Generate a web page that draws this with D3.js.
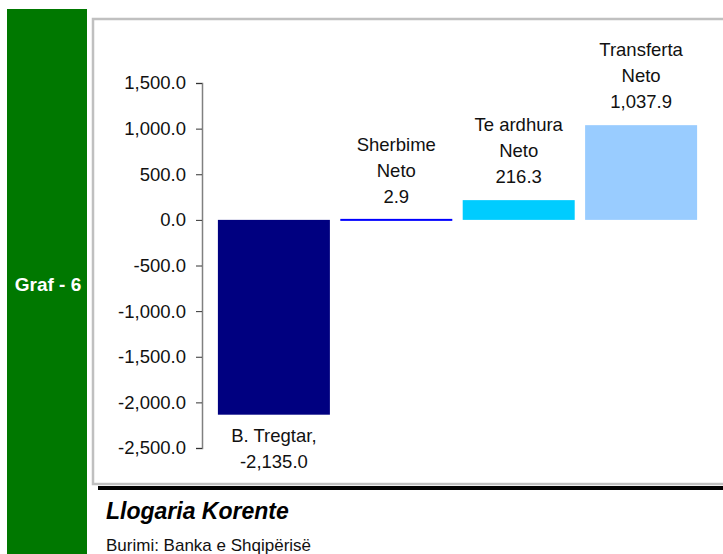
<!DOCTYPE html>
<html>
<head>
<meta charset="utf-8">
<script src="https://cdn.jsdelivr.net/npm/d3@7"></script>
<style>
  body { margin: 0; background: #fff; }
  text { font-family: "Liberation Sans", Arial, sans-serif; }
</style>
</head>
<body>
<div id="app"></div>
<script>
const width = 723;
const height = 554;

// data
const categories = ["B. Tregtar", "Sherbime Neto", "Te ardhura Neto", "Transferta Neto"];
const values = [-2135.0, 2.9, 216.3, 1037.9];
const labelLines = [["B. Tregtar,"], ["Sherbime", "Neto"], ["Te ardhura", "Neto"], ["Transferta", "Neto"]];
const barColors = ["#000080", "#0000ff", "#00ccff", "#99ccff"];
const yTicks = [1500, 1000, 500, 0, -500, -1000, -1500, -2000, -2500];

const svg = d3
  .select("#app")
  .append("svg")
  .attr("width", width)
  .attr("height", height);

// plain hyphen instead of unicode minus
const fmt = v => d3.format(",.1f")(v).replace("\u2212", "-");

// green side strip
svg.append("rect")
  .attr("x", 7).attr("y", 9)
  .attr("width", 80).attr("height", height - 9)
  .attr("fill", "#007800");

svg.append("text")
  .attr("x", 48).attr("y", 291)
  .attr("text-anchor", "middle")
  .attr("fill", "#fff")
  .style("font-size", "19px")
  .style("font-weight", "bold")
  .text("Graf - 6");

// chart frame
svg.append("rect")
  .attr("x", 93).attr("y", 19)
  .attr("width", 640).attr("height", 465)
  .attr("fill", "#fff")
  .attr("stroke", "#c0c0c0")
  .attr("stroke-width", 2.5);

svg.append("rect")
  .attr("x", 98).attr("y", 486)
  .attr("width", width - 98).attr("height", 4)
  .attr("fill", "#000");

const y = d3.scaleLinear()
  .domain([-2500, 1500])
  .range([448, 83]);

const x = d3.scaleBand()
  .domain(categories)
  .range([213, 702])
  .paddingInner(0.085)
  .paddingOuter(0.04);

// y axis
const axis = svg.append("g")
  .attr("transform", "translate(202,0)")
  .call(d3.axisLeft(y)
    .tickValues(yTicks)
    .tickSize(6)
    .tickPadding(10)
    .tickFormat(fmt));

axis.select(".domain").attr("stroke", "#808080").attr("stroke-width", 1.5);
axis.selectAll(".tick line").attr("stroke", "#333");
axis.selectAll(".tick text")
  .attr("fill", "#111")
  .style("font-size", "18.5px")
  .style("font-family", "'Liberation Sans', Arial, sans-serif");

// bars
svg.selectAll("rect.bar")
  .data(categories)
  .join("rect")
  .attr("class", "bar")
  .attr("x", d => x(d))
  .attr("width", x.bandwidth())
  .attr("y", (d, i) => {
    const top = Math.min(y(values[i]), y(0));
    return Math.abs(y(values[i]) - y(0)) < 2 ? y(0) - 1 : top;
  })
  .attr("height", (d, i) => Math.max(2, Math.abs(y(values[i]) - y(0))))
  .attr("fill", (d, i) => barColors[i]);

// labels
categories.forEach((c, i) => {
  const lines = labelLines[i].concat([fmt(values[i])]);
  const cx = x(c) + x.bandwidth() / 2;
  const g = svg.append("text")
    .attr("text-anchor", "middle")
    .attr("fill", "#111")
    .style("font-size", "18.5px");
  if (values[i] < 0) {
    const start = y(values[i]) + 27;
    lines.forEach((l, k) => {
      g.append("tspan").attr("x", cx).attr("y", start + k * 26).text(l);
    });
  } else {
    const last = y(values[i]) - 17;
    lines.forEach((l, k) => {
      g.append("tspan").attr("x", cx).attr("y", last - (lines.length - 1 - k) * 26).text(l);
    });
  }
});

// title and source
svg.append("text")
  .attr("x", 106).attr("y", 519)
  .attr("fill", "#000")
  .style("font-size", "23px")
  .style("font-weight", "bold")
  .style("font-style", "italic")
  .text("Llogaria Korente");

svg.append("text")
  .attr("x", 106).attr("y", 551)
  .attr("fill", "#111")
  .style("font-size", "17px")
  .text("Burimi: Banka e Shqipërisë");
</script>
</body>
</html>
